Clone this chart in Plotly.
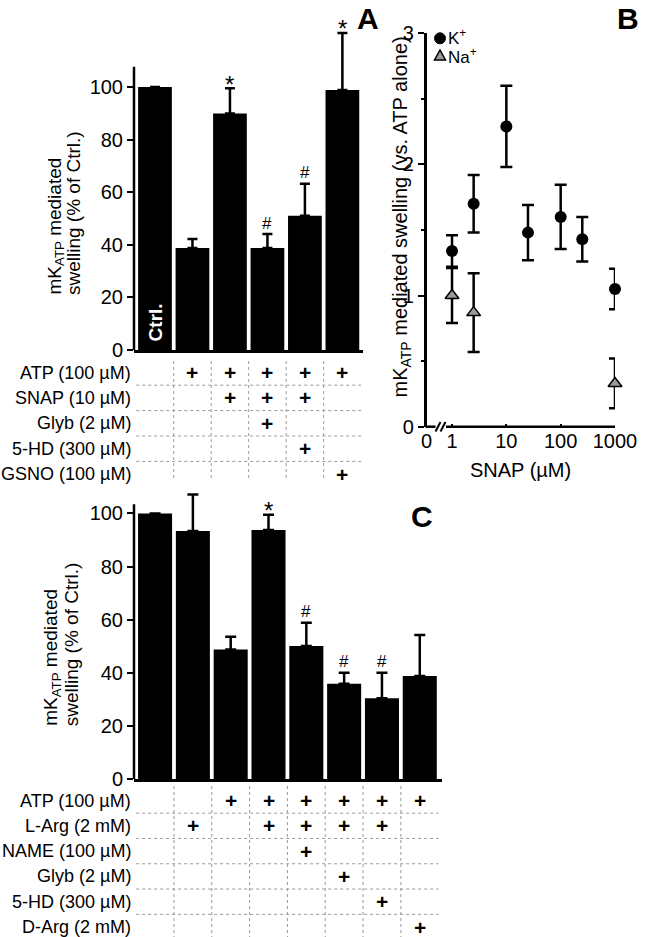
import plotly.graph_objects as go

# ---------------- data ----------------
# Panel A
a_values = [100, 38.8, 89.9, 38.8, 51.1, 98.9]
a_err = [None, 3.4, 9.6, 5.3, 12.1, 21.7]
a_sig = ["", "", "*", "#", "#", "*"]
a_rows = ["ATP (100 µM)", "SNAP (10 µM)", "Glyb (2 µM)", "5-HD (300 µM)", "GSNO (100 µM)"]
a_table = [
    [0, 1, 1, 1, 1, 1],
    [0, 0, 1, 1, 1, 0],
    [0, 0, 0, 1, 0, 0],
    [0, 0, 0, 0, 1, 0],
    [0, 0, 0, 0, 0, 1],
]

# Panel B
snap_k = [1, 2.5, 10, 25, 100, 250, 1000]
k_mean = [1.34, 1.70, 2.29, 1.48, 1.60, 1.43, 1.05]
k_err = [0.12, 0.22, 0.31, 0.21, 0.245, 0.17, 0.155]
snap_na = [1, 2.5, 1000]
na_mean = [1.00, 0.87, 0.33]
na_err = [0.21, 0.30, 0.19]
b_xticks = [0.339, 1, 10, 100, 1000]
b_xticktext = ["0", "1", "10", "100", "1000"]

# Panel C
c_values = [100, 93.4, 48.8, 93.7, 50.1, 35.9, 30.4, 38.8]
c_err = [None, 13.7, 4.8, 5.8, 8.7, 4.1, 9.6, 15.4]
c_sig = ["", "", "", "*", "#", "#", "#", ""]
c_rows = ["ATP (100 µM)", "L-Arg (2 mM)", "NAME (100 µM)", "Glyb (2 µM)", "5-HD (300 µM)", "D-Arg (2 mM)"]
c_table = [
    [0, 0, 1, 1, 1, 1, 1, 1],
    [0, 1, 0, 1, 1, 1, 1, 0],
    [0, 0, 0, 0, 1, 0, 0, 0],
    [0, 0, 0, 0, 0, 1, 0, 0],
    [0, 0, 0, 0, 0, 0, 1, 0],
    [0, 0, 0, 0, 0, 0, 0, 1],
]

# ---------------- helpers ----------------
W, H = 645, 937
FONT = "Liberation Sans, Arial, sans-serif"


def fx(px):
    return px / W


def fy(py):
    return 1 - py / H


fig = go.Figure()

# Panel A bars
xa = list(range(len(a_values)))
fig.add_trace(go.Bar(
    x=xa, y=a_values, width=0.9,
    marker=dict(color="black", line=dict(width=0)),
    error_y=dict(type="data", symmetric=False, array=a_err,
                 arrayminus=[0] * len(a_values), color="black",
                 thickness=2.5, width=5),
    xaxis="x", yaxis="y", showlegend=False,
))

# Panel B points
fig.add_trace(go.Scatter(
    x=snap_k, y=k_mean, mode="markers",
    marker=dict(symbol="circle", size=12, color="black"),
    error_y=dict(type="data", array=k_err, color="black", thickness=2.5, width=6),
    xaxis="x2", yaxis="y2", showlegend=False, cliponaxis=False,
))
fig.add_trace(go.Scatter(
    x=snap_na, y=na_mean, mode="markers",
    marker=dict(symbol="triangle-up", size=12, color="#9a9a9a",
                line=dict(color="black", width=1.5)),
    error_y=dict(type="data", array=na_err, color="black", thickness=2.5, width=6),
    xaxis="x2", yaxis="y2", showlegend=False, cliponaxis=False,
))

# Panel C bars
xc = list(range(len(c_values)))
fig.add_trace(go.Bar(
    x=xc, y=c_values, width=0.9,
    marker=dict(color="black", line=dict(width=0)),
    error_y=dict(type="data", symmetric=False, array=c_err,
                 arrayminus=[0] * len(c_values), color="black",
                 thickness=2.5, width=5.5),
    xaxis="x3", yaxis="y3", showlegend=False,
))

tickfont = dict(size=20, color="black", family=FONT)
common = dict(automargin=False, showgrid=False, zeroline=False, fixedrange=True)

fig.update_layout(
    template="none",
    width=W, height=H, autosize=False,
    margin=dict(l=0, r=0, t=0, b=0, pad=0, autoexpand=False),
    paper_bgcolor="white", plot_bgcolor="white",
    font=dict(family=FONT, color="black"),
    showlegend=False,
    xaxis=dict(domain=[fx(134), fx(363)], range=[-0.56, 5.55],
               showline=True, linecolor="black", linewidth=2.5,
               showticklabels=False, ticks="", anchor="y", **common),
    yaxis=dict(domain=[fy(350), fy(20)], range=[0, 125.5],
               tickvals=[0, 20, 40, 60, 80, 100], ticks="outside", ticklen=6,
               tickwidth=2, tickcolor="black", showline=False,
               tickfont=tickfont, anchor="x", **common),
    xaxis2=dict(type="log", domain=[fx(426.5), fx(615)], range=[-0.47, 3.0],
                tickvals=b_xticks, ticktext=b_xticktext, ticks="inside",
                ticklen=3, tickwidth=1.5, tickcolor="black", showline=False,
                tickfont=tickfont, anchor="y2", **common),
    yaxis2=dict(domain=[fy(426.7), fy(33.3)], range=[0, 3],
                tickvals=[0, 1, 2, 3], ticks="outside", ticklen=6, tickwidth=2,
                tickcolor="black", showline=True, linecolor="black",
                linewidth=2.5, tickfont=tickfont, anchor="x2",
                minor=dict(tickvals=[0.5, 1.5, 2.5], ticks="outside",
                           ticklen=3, tickwidth=1.5, tickcolor="black"),
                **common),
    xaxis3=dict(domain=[fx(134), fx(441.7)], range=[-0.557, 7.58],
                showline=True, linecolor="black", linewidth=2.5,
                showticklabels=False, ticks="", anchor="y3", **common),
    yaxis3=dict(domain=[fy(779), fy(490)], range=[0, 108.8],
                tickvals=[0, 20, 40, 60, 80, 100], ticks="outside", ticklen=6,
                tickwidth=2, tickcolor="black", showline=False,
                tickfont=tickfont, anchor="x3", **common),
)

shapes = []
# Y axis lines for A and C (stop short of the plotting range top)
shapes.append(dict(type="line", xref="x domain", yref="y", x0=0, x1=0,
                   y0=0, y1=107.7, line=dict(color="black", width=2.5)))
shapes.append(dict(type="line", xref="x3 domain", yref="y3", x0=0, x1=0,
                   y0=0, y1=103.4, line=dict(color="black", width=2.5)))
# B x-axis with break
yb = fy(426.7)
shapes.append(dict(type="line", xref="paper", yref="paper", x0=fx(425.5), x1=fx(435.5),
                   y0=yb, y1=yb, line=dict(color="black", width=2.5)))
shapes.append(dict(type="line", xref="paper", yref="paper", x0=fx(446), x1=fx(615),
                   y0=yb, y1=yb, line=dict(color="black", width=2.5)))
for xs in (435.5, 440.5):
    shapes.append(dict(type="line", xref="paper", yref="paper",
                       x0=fx(xs), x1=fx(xs + 5), y0=fy(431.5), y1=fy(422),
                       line=dict(color="black", width=2)))
# Legend glyphs in B
shapes.append(dict(type="circle", xref="paper", yref="paper",
                   x0=fx(434.5), x1=fx(445.5), y0=fy(43.8), y1=fy(32.8),
                   fillcolor="black", line=dict(color="black", width=1)))
shapes.append(dict(type="path", xref="paper", yref="paper",
                   path="M {} {} L {} {} L {} {} Z".format(
                       fx(434.5), fy(60), fx(445.5), fy(60), fx(440), fy(50)),
                   fillcolor="#9a9a9a", line=dict(color="black", width=1.5)))

dot = dict(color="#9a9a9a", width=1, dash="dot")
# Table A grid
a_row_y = [372.5, 397.9, 423.3, 448.7, 474.1]
for i in range(len(a_values) - 1):
    shapes.append(dict(type="line", xref="x", yref="paper", x0=i + 0.5, x1=i + 0.5,
                       y0=fy(361), y1=fy(481), line=dot))
for r in range(len(a_rows) - 1):
    yy = (a_row_y[r] + a_row_y[r + 1]) / 2
    shapes.append(dict(type="line", xref="x", yref="paper", x0=-0.5, x1=5.5,
                       y0=fy(yy), y1=fy(yy), line=dot))
# Table C grid
c_row_y = [800.5, 825.8, 851.1, 876.4, 901.7, 927.0]
for i in range(len(c_values) - 1):
    shapes.append(dict(type="line", xref="x3", yref="paper", x0=i + 0.5, x1=i + 0.5,
                       y0=fy(786), y1=fy(937), line=dot))
for r in range(len(c_rows) - 1):
    yy = (c_row_y[r] + c_row_y[r + 1]) / 2
    shapes.append(dict(type="line", xref="x3", yref="paper", x0=-0.5, x1=7.5,
                       y0=fy(yy), y1=fy(yy), line=dot))

ann = []


def text(x, y, t, size, xref="paper", yref="paper", **kw):
    d = dict(x=x, y=y, text=t, xref=xref, yref=yref, showarrow=False,
             xanchor="center", yanchor="middle",
             font=dict(size=size, color=kw.pop("color", "black"), family=FONT))
    d.update(kw)
    ann.append(d)


# Panel letters
text(fx(368), 1, "<b>A</b>", 30, yanchor="top")
text(fx(628), 1, "<b>B</b>", 30, yanchor="top")
text(fx(421.7), fy(516.7), "<b>C</b>", 30)

# Y titles A / C (two lines, bottom-aligned)
text(fx(55), fy(297), "mK<sub>ATP</sub> mediated", 19, textangle=-90,
     yanchor="bottom")
text(fx(73), fy(297), "swelling (% of Ctrl.)", 19, textangle=-90,
     yanchor="bottom")
text(fx(52), fy(728.3), "mK<sub>ATP</sub> mediated", 19, textangle=-90,
     yanchor="bottom")
text(fx(71), fy(728.3), "swelling (% of Ctrl.)", 19, textangle=-90,
     yanchor="bottom")
# B titles
text(fx(401), fy(216.5), "mK<sub>ATP</sub> mediated swelling (vs. ATP alone)", 20,
     textangle=-90)
text(fx(520.5), fy(470), "SNAP (µM)", 20)
# B legend text
text(fx(446), fy(37.5), "K<sup>+</sup>", 17, xanchor="left")
text(fx(446), fy(56), "Na<sup>+</sup>", 17, xanchor="left")

# Ctrl. label inside first bar of A
text(0, 10.5, "<b>Ctrl.</b>", 19, xref="x", yref="y", textangle=-90,
     color="white")

# Significance markers
for i, s in enumerate(a_sig):
    if s:
        top = a_values[i] + (a_err[i] or 0)
        text(i, top, s, 24 if s == "*" else 17, xref="x", yref="y",
             yshift=4 if s == "*" else 11)
for i, s in enumerate(c_sig):
    if s:
        top = c_values[i] + (c_err[i] or 0)
        text(i, top, s, 24 if s == "*" else 17, xref="x3", yref="y3",
             yshift=4 if s == "*" else 11)

# Table labels and pluses
for r, lab in enumerate(a_rows):
    text(fx(133), fy(a_row_y[r]), lab, 18, xanchor="right")
    for c, v in enumerate(a_table[r]):
        if v:
            text(c, fy(a_row_y[r]), "<b>+</b>", 21, xref="x")
for r, lab in enumerate(c_rows):
    text(fx(133), fy(c_row_y[r]), lab, 18, xanchor="right")
    for c, v in enumerate(c_table[r]):
        if v:
            text(c, fy(c_row_y[r]), "<b>+</b>", 21, xref="x3")

fig.update_layout(shapes=shapes, annotations=ann)
fig.write_html(
    "out.html",
    config={"displayModeBar": False},
    post_script="document.body.style.margin='0';document.body.style.overflow='hidden';",
)
